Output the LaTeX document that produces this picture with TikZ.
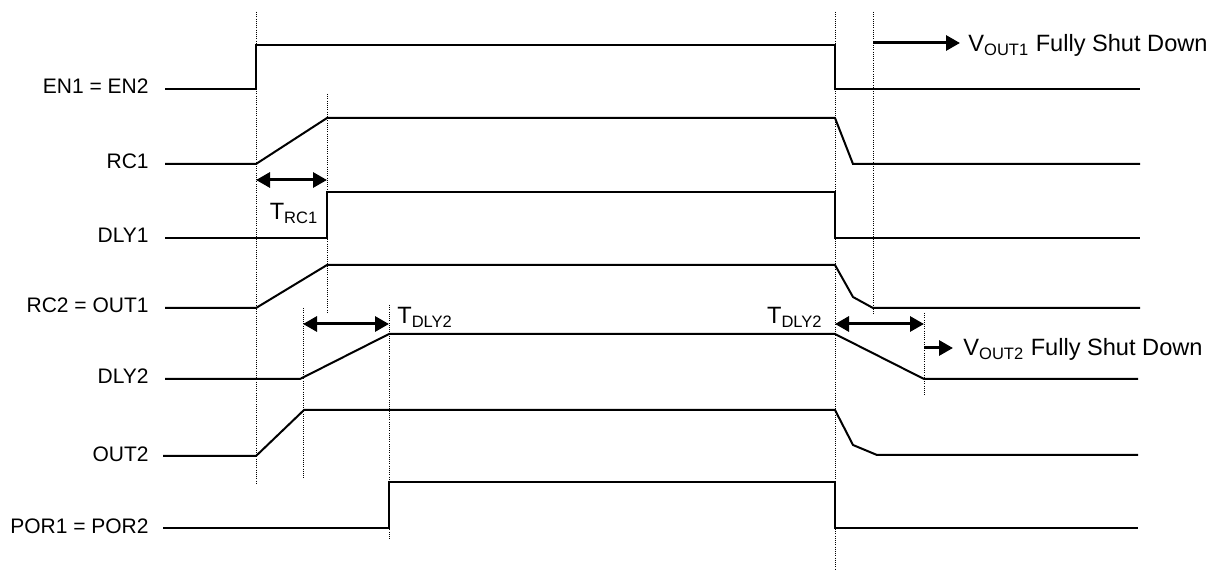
\documentclass[tikz,border=0pt]{standalone}
\usepackage{fontspec}
\setmainfont{Liberation Sans}
\usetikzlibrary{arrows.meta}

\begin{document}
\begin{tikzpicture}[x=0.5pt, y=-0.5pt,
    every node/.style={inner sep=0pt, font=\fontsize{10.5}{12}\selectfont},
    big/.style={font=\fontsize{11.8}{14}\selectfont},
    sig/.style={line width=1pt},
    tmark/.style={line width=0.5pt, dash pattern=on 0.5pt off 0.6pt},
    span/.style={{Triangle[length=7pt,width=7.5pt]}-{Triangle[length=7pt,width=7.5pt]}, line width=1.5pt},
    note/.style={-{Triangle[length=7pt,width=7.5pt]}, line width=1.5pt}]
    \useasboundingbox (0,0) rectangle (1222,572);
    % Signal names
    \foreach \name/\txt/\y in {en/EN1 = EN2/89, rc1/RC1/164, dly1/DLY1/238, rc2/RC2 = OUT1/308,
                               dly2/DLY2/379, out2/OUT2/456, por/POR1 = POR2/528} {
        \node[anchor=base east] (\name) at (149,\y+5) {\txt};
    }
    % Waveforms
    \draw[sig] (165,89) -- (256,89) -- (256,45) -- (835,45) -- (835,89) -- (1140,89);
    \draw[sig] (165,164) -- (256,164) -- (327,118) -- (835,118) -- (853,164) -- (1140,164);
    \draw[sig] (165,238) -- (327,238) -- (327,192) -- (835,192) -- (835,238) -- (1140,238);
    \draw[sig] (165,308) -- (256,308) -- (327,265) -- (835,265) -- (853,297) -- (873,308) -- (1140,308);
    \draw[sig] (165,379) -- (300,379) -- (389,334) -- (835,334) -- (924,379) -- (1138,379);
    \draw[sig] (163,456) -- (256,456) -- (304,410) -- (835,410) -- (853,445) -- (877,455) -- (1138,455);
    \draw[sig] (163,528) -- (389,528) -- (389,482) -- (835,482) -- (835,528) -- (1138,528);
    % Timing marks
    \foreach \x/\ya/\yb in {256/12/483, 327/94/312, 303/308/479, 389/305/540,
                            835/12/570, 873/12/315, 924/313/395} {
        \draw[tmark] (\x,\ya) -- (\x,\yb);
    }
    % Delays
    \coordinate (rcA) at (256,180);
    \coordinate (rcB) at (327,180);
    \draw[span] (rcA) -- (rcB);
    \node[big, anchor=base] (trc) at (294,220) {T\textsubscript{RC1}};
    \coordinate (upA) at (303,324);
    \coordinate (upB) at (389,324);
    \draw[span] (upA) -- (upB);
    \node[big, anchor=base west] (tup) at (397,324) {T\textsubscript{DLY2}};
    \coordinate (dnA) at (835,324);
    \coordinate (dnB) at (924,324);
    \draw[span] (dnA) -- (dnB);
    \node[big, anchor=base east] (tdn) at (823,324) {T\textsubscript{DLY2}};
    % Shut down notes
    \coordinate (v1A) at (873,43);
    \coordinate (v1B) at (960,43);
    \draw[note] (v1A) -- (v1B);
    \node[big, anchor=base west] (vout1) at (968,52) {V\textsubscript{OUT1} Fully Shut Down};
    \coordinate (v2A) at (924,348);
    \coordinate (v2B) at (953,348);
    \draw[note] (v2A) -- (v2B);
    \node[big, anchor=base west] (vout2) at (963,356) {V\textsubscript{OUT2} Fully Shut Down};
\end{tikzpicture}
\end{document}
